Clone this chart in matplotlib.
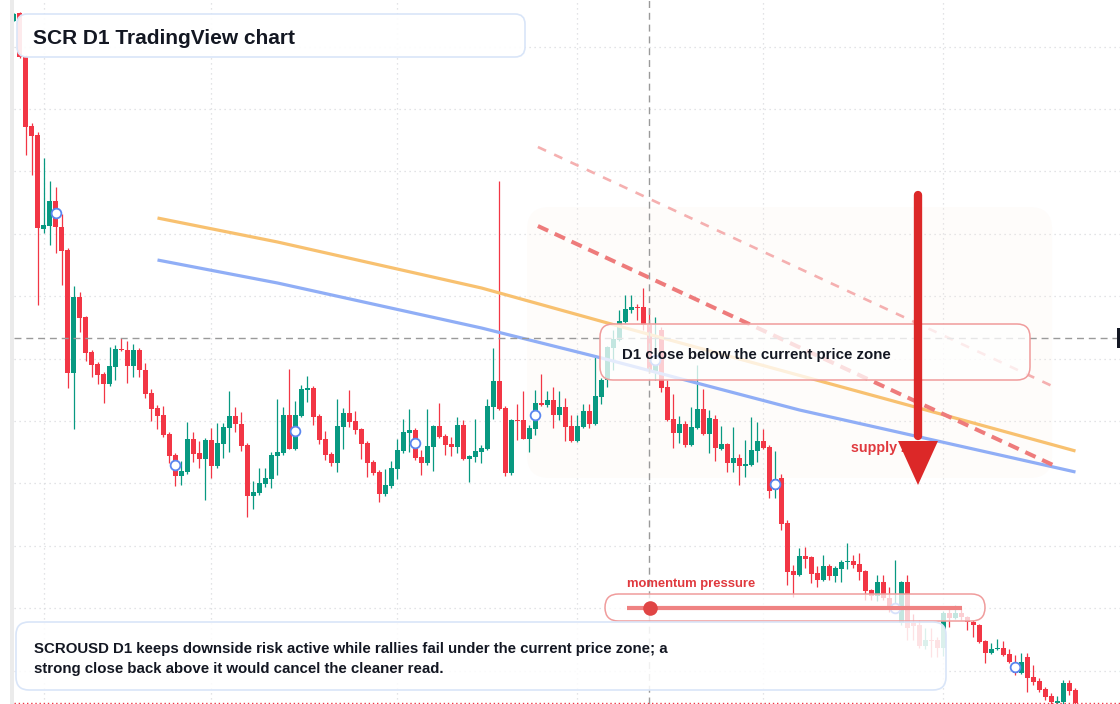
import matplotlib
matplotlib.use("Agg")
import matplotlib.pyplot as plt
import numpy as np
from matplotlib.patches import FancyBboxPatch, Rectangle, Polygon
from matplotlib.transforms import Affine2D, IdentityTransform
from matplotlib.colors import to_rgba

# ---------------- data (price units) ----------------
opens = [
    .779, .787, .743, .674, .665, .571, .574, .599, .573, .550,
    .427, .503, .483, .448, .436, .426, .416, .433, .451, .450,
    .434, .450, .430, .407, .392, .385, .366, .345, .324, .328,
    .361, .347, .341, .360, .334, .356, .372, .384, .376, .355,
    .304, .307, .316, .321, .344, .347, .385, .351, .384, .410,
    .412, .384, .361, .346, .337, .373, .387, .379, .371, .357,
    .338, .328, .306, .314, .331, .349, .367, .370, .343, .337,
    .353, .374, .364, .356, .353, .375, .341, .343, .348, .351,
    .393, .419, .392, .327, .380, .380, .361, .371, .397, .395,
    .400, .385, .393, .374, .359, .373, .389, .376, .403, .420,
    .452, .460, .478, .490, .493, .493, .475, .429, .470, .413,
    .381, .367, .376, .355, .372, .391, .366, .381, .351, .356,
    .337, .342, .334, .335, .349, .359, .353, .310, .322, .277,
    .229, .225, .244, .243, .227, .220, .234, .224, .231, .238,
    .239, .236, .229, .210, .204, .218, .202, .190, .177, .218,
    .177, .175, .154, .160, .160, .152, .187, .182, .187, .183,
    .178, .175, .159, .147, .151, .152, .146, .137, .127, .143,
    .123, .119, .111, .104, .097, .098, .117, .110]
highs = [
    .787, .788, .745, .677, .668, .642, .619, .613, .586, .552,
    .514, .508, .484, .450, .438, .428, .453, .455, .462, .459,
    .456, .452, .437, .411, .395, .394, .368, .347, .339, .378,
    .368, .359, .362, .372, .377, .377, .409, .393, .388, .357,
    .319, .332, .332, .348, .401, .393, .431, .399, .415, .424,
    .414, .386, .369, .348, .401, .392, .410, .389, .372, .359,
    .340, .330, .331, .339, .361, .381, .391, .372, .350, .391,
    .375, .397, .366, .363, .383, .380, .345, .381, .355, .401,
    .452, .619, .394, .381, .396, .409, .375, .410, .426, .409,
    .413, .409, .402, .385, .385, .396, .396, .443, .422, .454,
    .470, .490, .505, .505, .496, .512, .492, .483, .473, .420,
    .406, .384, .379, .393, .435, .411, .390, .385, .374, .357,
    .373, .346, .360, .383, .378, .371, .355, .349, .326, .280,
    .235, .252, .253, .244, .234, .245, .236, .234, .240, .257,
    .245, .247, .230, .211, .225, .225, .213, .240, .219, .225,
    .186, .180, .172, .172, .163, .189, .193, .195, .193, .184,
    .180, .176, .160, .157, .161, .159, .151, .145, .147, .147,
    .135, .122, .113, .107, .104, .120, .120, .112]
lows = [
    .779, .742, .645, .625, .495, .567, .555, .547, .515, .412,
    .371, .468, .439, .423, .416, .397, .414, .420, .449, .417,
    .423, .423, .402, .379, .371, .363, .337, .314, .315, .326,
    .338, .332, .300, .322, .332, .342, .348, .368, .349, .283,
    .291, .305, .313, .312, .325, .345, .351, .350, .383, .398,
    .375, .356, .340, .334, .328, .351, .373, .366, .341, .323,
    .325, .298, .304, .312, .321, .347, .348, .340, .325, .335,
    .329, .362, .345, .344, .347, .340, .318, .338, .337, .350,
    .381, .390, .324, .325, .360, .361, .348, .365, .394, .393,
    .372, .380, .359, .358, .358, .372, .372, .375, .396, .413,
    .430, .459, .477, .487, .480, .470, .427, .420, .408, .379,
    .352, .357, .353, .354, .371, .365, .347, .339, .350, .328,
    .328, .315, .323, .334, .338, .351, .302, .302, .270, .215,
    .203, .224, .232, .217, .213, .219, .220, .218, .218, .231,
    .232, .220, .200, .200, .199, .200, .188, .188, .175, .160,
    .160, .152, .151, .143, .143, .144, .173, .181, .180, .170,
    .163, .157, .137, .146, .150, .144, .137, .125, .126, .108,
    .115, .108, .100, .096, .095, .095, .105, .092]
closes = [
    .786, .743, .673, .664, .572, .575, .599, .573, .549, .427,
    .503, .482, .447, .435, .425, .416, .434, .451, .450, .434,
    .450, .430, .406, .391, .384, .365, .344, .324, .329, .361,
    .346, .341, .360, .334, .357, .373, .384, .376, .354, .304,
    .308, .317, .322, .345, .348, .385, .351, .385, .411, .412,
    .383, .360, .345, .337, .374, .387, .378, .370, .356, .337,
    .327, .306, .315, .332, .350, .368, .370, .342, .337, .354,
    .374, .363, .355, .353, .375, .341, .344, .349, .352, .394,
    .419, .391, .327, .380, .379, .361, .372, .397, .395, .400,
    .385, .393, .373, .359, .374, .389, .376, .404, .420, .453,
    .461, .479, .491, .493, .492, .475, .429, .435, .412, .380,
    .367, .376, .355, .373, .391, .366, .382, .352, .356, .337,
    .342, .334, .336, .350, .359, .352, .309, .321, .276, .228,
    .225, .244, .241, .226, .220, .234, .224, .232, .238, .239,
    .235, .228, .209, .204, .218, .202, .190, .194, .218, .172,
    .174, .154, .160, .159, .152, .187, .182, .187, .183, .178,
    .175, .158, .147, .151, .152, .145, .138, .127, .138, .122,
    .118, .110, .103, .098, .099, .117, .109, .097]

marker_idx = [7, 27, 47, 67, 87, 107, 127, 147, 167]
marker_vals = [.587, .335, .369, .357, .385, .440, .316, .192, .133]

orange_x = [24, 44, 78, 99, 146, 177]
orange_y = [.582, .558, .512, .477, .400, .349]
blue_x = [24, 44, 78, 98, 131, 177]
blue_y = [.540, .517, .472, .442, .390, .328]

dash1_x = [87.4, 173.25]
dash1_y = [.574, .335]
dash2_x = [87.4, 173.1]
dash2_y = [.653, .414]

zone_x = [85.6, 173.1]
zone_y = [.322, .593]

arrow_x = 150.75
arrow_top, arrow_head, arrow_tip = .605, .359, .315

grid_prices = [.7534, .6910, .6286, .5662, .5038, .4414, .3790, .3166, .2542, .1918, .1294]
month_idx = [5, 33, 64, 94, 125, 155]
cross_idx, cross_price = 106, .462

title = "SCR D1 TradingView chart"
zone_label = "D1 close below the current price zone"
supply_label = "supply zone"
momentum_label = "momentum pressure"
note_lines = ["SCROUSD D1 keeps downside risk active while rallies fail under the current price zone; a",
              "strong close back above it would cancel the cleaner read."]

# ---------------- figure ----------------
W, H = 1120, 704
fig = plt.figure(figsize=(W / 100, H / 100), dpi=100)
fig.patch.set_facecolor("white")
ax = fig.add_axes([14 / W, 0, 1 - 14 / W, 1])
ax.set_xlim(0.0833, 184.417)
ax.set_ylim(0.096, 0.800)
ax.axis("off")

PX = Affine2D().scale(1, -1).translate(0, H)  # pixel coords from top-left
FONT = "Liberation Sans"
GREEN, RED = "#089981", "#f23645"
INK = "#131722"

# grid
for p in grid_prices:
    ax.axhline(p, color="#d9dbdf", lw=0.9, ls=(0, (1, 3)), zorder=0.5)
for m in month_idx:
    ax.axvline(m, color="#d9dbdf", lw=0.9, ls=(0, (1, 3)), zorder=0.5)

# supply zone (faint)
(zx0, zy0) = ax.transData.transform((zone_x[0], zone_y[0]))
(zx1, zy1) = ax.transData.transform((zone_x[1], zone_y[1]))
ax.add_patch(FancyBboxPatch((zx0, zy0), zx1 - zx0, zy1 - zy0,
                            boxstyle="round,pad=0,rounding_size=22",
                            transform=IdentityTransform(), facecolor=to_rgba("#fbefe3", 0.16),
                            edgecolor="none", zorder=1, clip_on=False))

# candles
o = np.array(opens); c = np.array(closes); h = np.array(highs); l = np.array(lows)
idx = np.arange(len(o))
cols = np.where(c >= o, GREEN, RED)
ax.vlines(idx, l, h, colors=cols, lw=0.9, zorder=3)
ax.bar(idx, np.maximum(np.abs(c - o), 0.0012), bottom=np.minimum(o, c), width=0.82,
       color=cols, lw=0, zorder=3.1)

# indicator lines
ax.plot(orange_x, orange_y, color="#f8c170", lw=2.3, zorder=3.5, solid_capstyle="butt")
ax.plot(blue_x, blue_y, color="#90aef6", lw=2.3, zorder=3.5, solid_capstyle="butt")
ax.plot(dash2_x, dash2_y, color="#f5b0b0", lw=1.9, ls=(0, (3.4, 3.4)), zorder=3.6)
ax.plot(dash1_x, dash1_y, color="#ee7b7b", lw=2.9, ls=(0, (2.8, 1.8)), zorder=3.6)

# markers
ax.plot(marker_idx, marker_vals, ls="none", marker="o", ms=7, mfc="white",
        mec="#5a86ef", mew=1.3, zorder=4)

# crosshair and last price line
ax.axhline(cross_price, color="#9a9a9a", lw=1.0, ls=(0, (5, 3.5)), zorder=4.5)
ax.axvline(cross_idx, color="#9a9a9a", lw=1.0, ls=(0, (5, 3.5)), zorder=4.5)
ax.axhline(closes[-1], color=RED, lw=1.0, ls=(0, (1, 2)), zorder=4.5)


def pbox(x0, y0, x1, y1, r, fc, ec, lw, z):
    ax.add_patch(FancyBboxPatch((x0, y0), x1 - x0, y1 - y0,
                                boxstyle=f"round,pad=0,rounding_size={r}",
                                transform=PX, facecolor=fc, edgecolor=ec, lw=lw,
                                zorder=z, clip_on=False))


# boxes
pbox(17, 14, 525, 57, 10, to_rgba("white", 0.9), "#d9e5f8", 1.2, 5)
pbox(600, 324, 1030, 380, 13, to_rgba("white", 0.76), "#f09c9c", 1.1, 5)
pbox(605, 594, 985, 621, 13.5, to_rgba("white", 0.76), "#f09c9c", 1.1, 5)
pbox(16, 622, 946, 690, 13, to_rgba("white", 0.86), "#d9e5f8", 1.2, 5)

# momentum bar
ax.plot([627, 962], [608, 608], transform=PX, color="#ef8282", lw=3.0, zorder=6,
        solid_capstyle="butt", clip_on=False)
ax.plot([650], [608], transform=PX, ls="none", marker="o", ms=10.5, mfc="#e04545",
        mec="none", zorder=6.1, clip_on=False)

# texts
ax.text(33, 43.5, title, transform=PX, fontsize=15.0, fontweight="bold", color=INK,
        family=FONT, va="baseline", ha="left", zorder=6)
ax.text(622, 359, zone_label, transform=PX, fontsize=10.8, fontweight="bold", color=INK,
        family=FONT, va="baseline", ha="left", zorder=6)
ax.text(627, 587, momentum_label, transform=PX, fontsize=9.4, fontweight="bold",
        color="#e0393e", family=FONT, va="baseline", ha="left", zorder=6)
ax.text(851, 452, supply_label, transform=PX, fontsize=10.3, fontweight="bold",
        color="#e0393e", family=FONT, va="baseline", ha="left", zorder=6)
for i, line in enumerate(note_lines):
    ax.text(34, 653 + 20 * i, line, transform=PX, fontsize=10.8, fontweight="bold",
            color=INK, family=FONT, va="baseline", ha="left", zorder=6)

# arrow
ax.plot([arrow_x, arrow_x], [arrow_top, arrow_head + 0.005], color="#dc2828", lw=6.0,
        solid_capstyle="round", zorder=7)
ax.add_patch(Polygon([(arrow_x - 3.33, arrow_head), (arrow_x + 3.33, arrow_head),
                      (arrow_x, arrow_tip)], closed=True, color="#dc2828", lw=0, zorder=7))

# frame decorations
fig.add_artist(Rectangle((10, 0), 4, H, transform=PX, color="#ebebeb", lw=0))
fig.add_artist(Rectangle((1117, 328), 4, 20, transform=PX, color=INK, lw=0, zorder=10))

fig.savefig("out.png", dpi=100)
